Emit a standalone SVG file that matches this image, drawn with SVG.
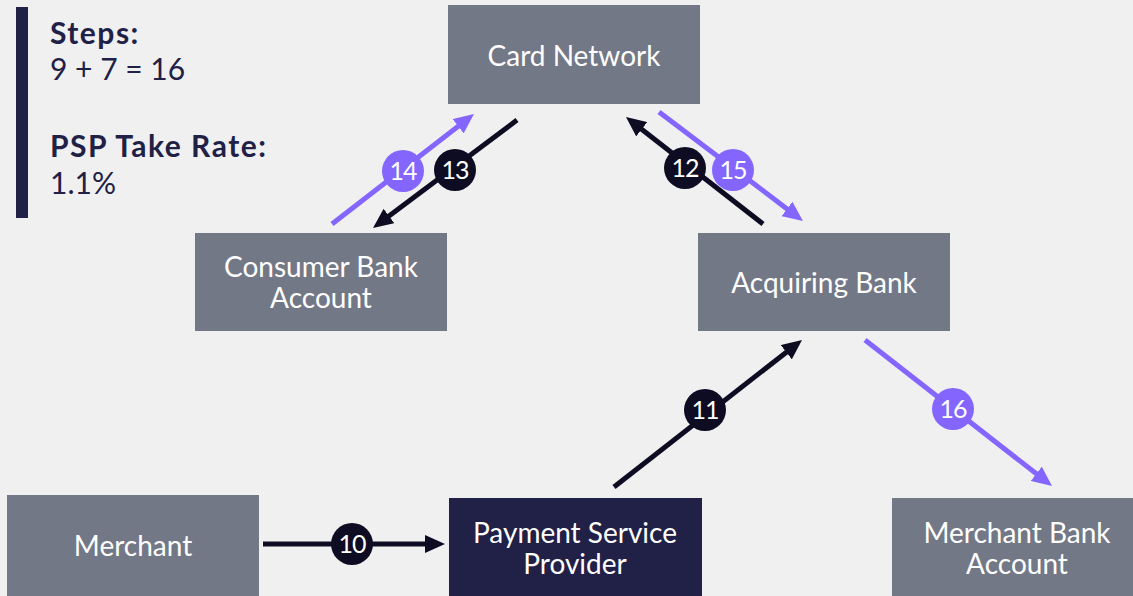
<svg xmlns="http://www.w3.org/2000/svg" width="1133" height="596" viewBox="0 0 1133 596">
<style>
.node{fill:#737887}
.psp{fill:#212046}
.lbl{font-family:Lato,"Noto Sans",sans-serif;font-size:28px;fill:#ffffff;text-anchor:middle}
.side{font-family:Lato,"Noto Sans",sans-serif;font-size:30px;fill:#212046}
.b{font-weight:bold;letter-spacing:1.5px}
.dk{stroke:#0d0c22;stroke-width:5;fill:none}
.pu{stroke:#8466ff;stroke-width:5;fill:none}
.cdk{fill:#0d0c22}
.cpu{fill:#8466ff}
.num{font-family:Lato,"Noto Sans",sans-serif;font-size:25px;fill:#ffffff;text-anchor:middle;letter-spacing:-1px}
</style>
<defs>
<marker id="ad" markerUnits="userSpaceOnUse" markerWidth="20" markerHeight="18" refX="5" refY="9" orient="auto"><path d="M0,0 L20,9 L0,18 z" fill="#0d0c22"/></marker>
<marker id="ap" markerUnits="userSpaceOnUse" markerWidth="20" markerHeight="18" refX="5" refY="9" orient="auto"><path d="M0,0 L20,9 L0,18 z" fill="#8466ff"/></marker>
</defs>
<rect width="1133" height="596" fill="#f0f0f0"/>
<g id="info">
<rect x="16" y="7" width="12" height="211" fill="#212046"/>
<text class="side b" x="50" y="44">Steps:</text>
<text class="side" x="50" y="80">9 + 7 = 16</text>
<text class="side b" x="50" y="157">PSP Take Rate:</text>
<text class="side" x="50" y="194">1.1%</text>
</g>
<g id="card-network"><rect class="node" x="448" y="5" width="252" height="99"/><text class="lbl" x="574" y="66">Card Network</text></g>
<g id="consumer-bank"><rect class="node" x="195" y="233" width="252" height="98"/><text class="lbl" x="321" y="277">Consumer Bank</text><text class="lbl" x="321" y="308">Account</text></g>
<g id="acquiring-bank"><rect class="node" x="698" y="233" width="252" height="98"/><text class="lbl" x="824" y="293">Acquiring Bank</text></g>
<g id="merchant"><rect class="node" x="7" y="495" width="252" height="110"/><text class="lbl" x="133" y="556">Merchant</text></g>
<g id="psp"><rect class="psp" x="449" y="498" width="253" height="110"/><text class="lbl" x="575" y="543">Payment Service</text><text class="lbl" x="575" y="574">Provider</text></g>
<g id="merchant-bank"><rect class="node" x="892" y="498" width="252" height="110"/><text class="lbl" x="1017" y="543">Merchant Bank</text><text class="lbl" x="1017" y="574">Account</text></g>
<g id="connectors">
<line class="dk" x1="263" y1="544" x2="430" y2="544" marker-end="url(#ad)"/>
<line class="dk" x1="614" y1="487" x2="790.2" y2="349.2" marker-end="url(#ad)"/>
<line class="dk" x1="763" y1="224" x2="637.8" y2="126.2" marker-end="url(#ad)"/>
<line class="dk" x1="517" y1="120" x2="385" y2="219" marker-end="url(#ad)"/>
<line class="pu" x1="332" y1="224" x2="462.1" y2="123.2" marker-end="url(#ap)"/>
<line class="pu" x1="659" y1="112" x2="791" y2="211.9" marker-end="url(#ap)"/>
<line class="pu" x1="865" y1="340" x2="1040.2" y2="476.8" marker-end="url(#ap)"/>
<circle class="cdk" cx="352" cy="544" r="21"/><text class="num" x="352" y="553">10</text>
<circle class="cdk" cx="705" cy="410" r="21"/><text class="num" x="705" y="419">11</text>
<circle class="cdk" cx="685" cy="168" r="21"/><text class="num" x="685" y="177">12</text>
<circle class="cdk" cx="455" cy="170" r="21"/><text class="num" x="455" y="179">13</text>
<circle class="cpu" cx="403" cy="171" r="21"/><text class="num" x="403" y="180">14</text>
<circle class="cpu" cx="733" cy="170" r="21"/><text class="num" x="733" y="179">15</text>
<circle class="cpu" cx="953" cy="409" r="21"/><text class="num" x="953" y="418">16</text>
</g>
</svg>
